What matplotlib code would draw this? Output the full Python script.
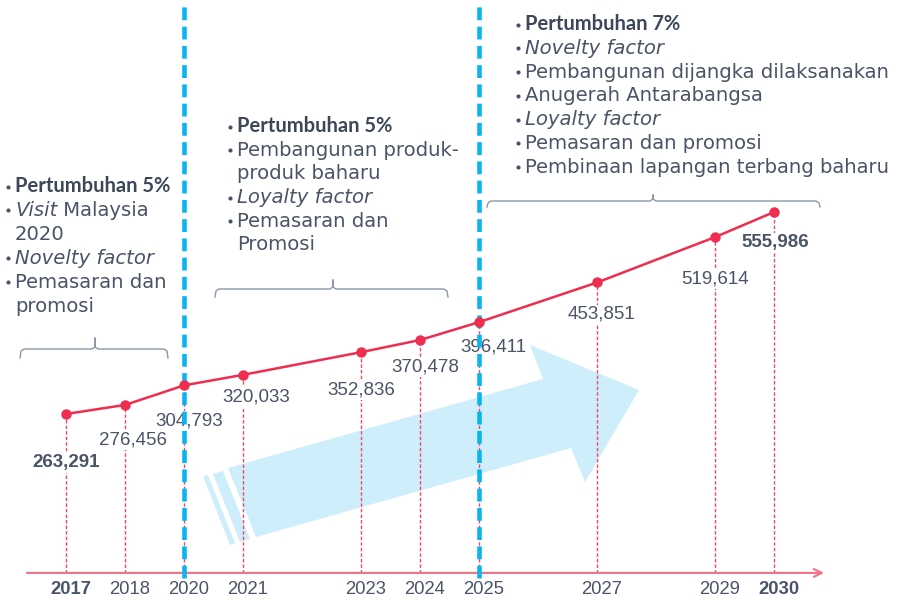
import matplotlib
matplotlib.use("Agg")
import matplotlib.pyplot as plt
from matplotlib.patches import Polygon

# ---------------- data ----------------
categories = [2017, 2018, 2020, 2021, 2022, 2023, 2024, 2025, 2026, 2027, 2028, 2029, 2030]
years = [2017, 2018, 2020, 2021, 2023, 2024, 2025, 2027, 2029, 2030]
visitors = [263291, 276456, 304793, 320033, 352836, 370478, 396411, 453851, 519614, 555986]
bold_years = [2017, 2030]
phase_breaks = [2020, 2025]

block1 = [("Pertumbuhan 5%", "bold", True),
          ("Visit| Malaysia", "mixed", True),
          ("2020", "normal", False),
          ("Novelty factor", "italic", True),
          ("Pemasaran dan", "normal", True),
          ("promosi", "normal", False)]
block2 = [("Pertumbuhan 5%", "bold", True),
          ("Pembangunan produk-", "normal", True),
          ("produk baharu", "normal", False),
          ("Loyalty factor", "italic", True),
          ("Pemasaran dan", "normal", True),
          ("Promosi", "normal", False)]
block3 = [("Pertumbuhan 7%", "bold", True),
          ("Novelty factor", "italic", True),
          ("Pembangunan dijangka dilaksanakan", "normal", True),
          ("Anugerah Antarabangsa", "normal", True),
          ("Loyalty factor", "italic", True),
          ("Pemasaran dan promosi", "normal", True),
          ("Pembinaan lapangan terbang baharu", "normal", True)]

# ---------------- style ----------------
W, H = 901, 599
RED = "#ef2d4f"
RED_DASH = "#f04a62"
AXIS_RED = "#f07282"
BLUE = "#0ab4f0"
ARROW = "#cdeefa"
TXT = "#4a5468"
TXT_B = "#3c475a"
BRACKET = "#8c97a8"
NUM_FONT = "Liberation Sans"
BODY_FONT = "DejaVu Sans"
BOLD_FONT = "Lato"
BODY_SIZE = 14.1


def fx(px):
    return px / W


def fy(py):
    return 1 - py / H


fig = plt.figure(figsize=(W / 100, H / 100), dpi=100)
ax = fig.add_axes([0, 0, 1, 1])
ax.set_axis_off()
ax.set_xlim(-66.3 / 59, (W - 66.3) / 59)
ax.set_ylim(-4800, 863000)
BASE = 33000

xi = [categories.index(y) for y in years]

# background arrow (decorative)
arrow_body = [(228, 468), (543, 379), (530, 345), (639, 390), (585, 482), (571, 448), (256, 537)]
stripe_a = [(213, 474), (223, 471), (250, 539), (240, 542)]
stripe_b = [(203, 476), (208, 475), (235, 543), (230, 545)]
for poly in (arrow_body, stripe_a, stripe_b):
    ax.add_patch(Polygon([(fx(x), fy(y)) for x, y in poly], closed=True,
                         transform=ax.transAxes, fc=ARROW, ec="none", zorder=0.5))

# vertical red dashed drop lines
ax.vlines(xi, BASE, visitors, colors=RED_DASH, linewidth=1.0,
          linestyles=(0, (2.5, 1.5)), zorder=1)

# x axis with arrow
ax.annotate("", xy=(fx(824), BASE), xytext=(fx(27), BASE),
            xycoords=("axes fraction", "data"), textcoords=("axes fraction", "data"),
            arrowprops=dict(arrowstyle="->", color=AXIS_RED, lw=1.5,
                            shrinkA=0, shrinkB=0, mutation_scale=14), zorder=2)

# year labels
for x, y in zip(xi, years):
    ax.annotate(str(y), xy=(x, BASE), xytext=(3, -6), textcoords="offset points",
                ha="center", va="top", fontsize=13.3, family=NUM_FONT,
                fontweight="bold" if y in bold_years else "normal", color=TXT, zorder=3)

# value labels (offsets in pixels below / right of each point)
label_dy = [49, 35, 36, 22, 38, 27, 25, 32, 42, 31]
label_dx = [0, 8, 5, 13, 0, 5, 14, 4, 0, 1]
for x, v, y, dy, dx in zip(xi, visitors, years, label_dy, label_dx):
    ax.annotate(f"{v:,}", xy=(x, v), xytext=(dx * 0.72, -dy * 0.72),
                textcoords="offset points", ha="center", va="center",
                fontsize=13.5, family=NUM_FONT,
                fontweight="bold" if y in bold_years else "normal", color=TXT,
                bbox=dict(fc="white", ec="none", pad=1.0), zorder=3)

# phase separators
for yb in phase_breaks:
    ax.axvline(categories.index(yb), ymin=fy(578), ymax=fy(5), color=BLUE, lw=3.3,
               linestyle=(0, (2.8, 1.4)), zorder=4)

# main line
ax.plot(xi, visitors, color=RED, lw=1.8, marker="o", markersize=6.5, zorder=5)


# brackets
def bracket(x0, x1, xc, y0, drop, rise):
    xs = [x0, x0 + 1, x0 + 4, xc - 3, xc, xc, xc, xc + 3, x1 - 4, x1 - 1, x1]
    ys = [y0 + drop, y0 + 2, y0, y0, y0 - 2, y0 - rise, y0 - 2, y0, y0, y0 + 2, y0 + drop]
    ax.plot([fx(v) for v in xs], [fy(v) for v in ys], transform=ax.transAxes,
            color=BRACKET, lw=1.0, zorder=2)


bracket(20, 168, 95, 349, 9, 11)
bracket(215, 448, 333, 289, 8, 9)
bracket(487, 820, 653, 201, 6, 6)


# text blocks
def text_block(lines, x_bullet, x_text, y_first, step):
    for k, (txt, style, bullet) in enumerate(lines):
        yb = y_first + k * step
        if bullet:
            ax.plot([fx(x_bullet)], [fy(yb - 5.5)], transform=ax.transAxes,
                    marker="o", markersize=3.0, color=TXT, mec="none", zorder=3)
        if style == "bold":
            ax.text(fx(x_text), fy(yb), txt, transform=ax.transAxes, ha="left",
                    va="baseline", fontsize=14.5, fontweight="bold", color=TXT_B,
                    family=BOLD_FONT)
        elif style == "mixed":
            a, b = txt.split("|")
            t1 = ax.text(fx(x_text), fy(yb), a, transform=ax.transAxes, ha="left",
                         va="baseline", fontsize=BODY_SIZE, style="italic", color=TXT,
                         family=BODY_FONT)
            ax.annotate(b, xy=(1, 0), xycoords=t1, ha="left", va="bottom",
                        fontsize=BODY_SIZE, color=TXT, family=BODY_FONT)
        else:
            ax.text(fx(x_text), fy(yb), txt, transform=ax.transAxes, ha="left",
                    va="baseline", fontsize=BODY_SIZE,
                    style="italic" if style == "italic" else "normal",
                    color=TXT, family=BODY_FONT)


text_block(block1, 8, 15, 192, 23.9)
text_block(block2, 230, 237, 132, 23.7)
text_block(block3, 518, 525, 30, 23.8)

fig.savefig("out.png", dpi=100)
